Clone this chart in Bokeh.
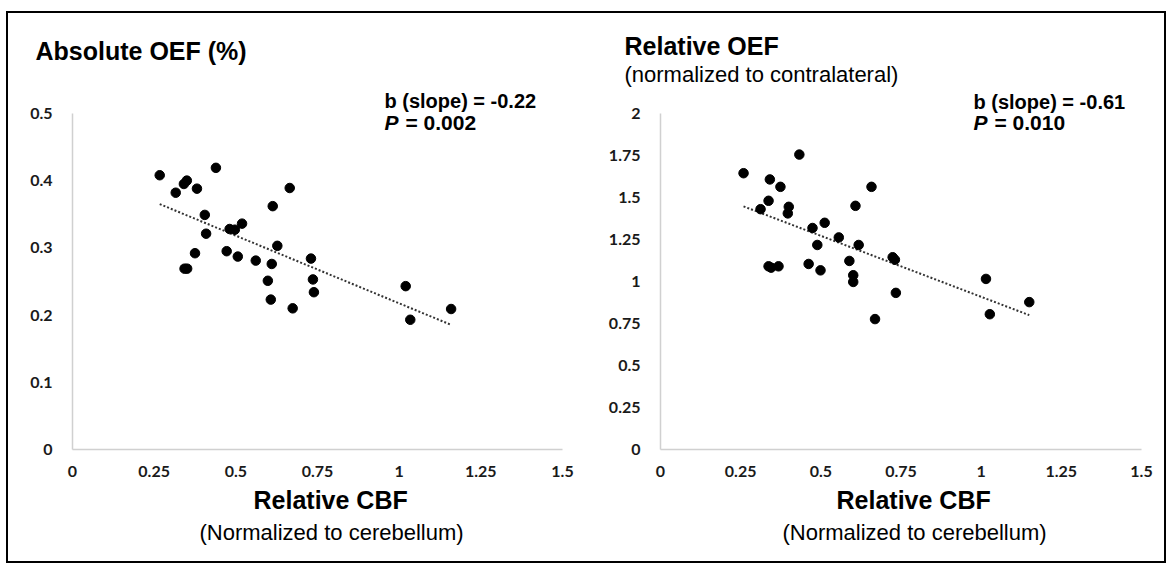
from bokeh.plotting import figure
from bokeh.layouts import row
from bokeh.models import Range1d, FixedTicker, CustomJSTickFormatter, Label, ColumnDataSource, Title
from bokeh.embed import file_html
from bokeh.resources import INLINE
import numpy as np

# ---- data ----
cbf_abs = [0.267, 0.439, 0.350, 0.341, 0.316, 0.381, 0.665, 0.613, 0.405, 0.519,
           0.481, 0.497, 0.409, 0.627, 0.375, 0.472, 0.506, 0.561, 0.610, 0.730,
           0.343, 0.351, 0.598, 0.736, 0.739, 0.607, 0.674, 1.020, 1.159, 1.034]
oef_abs = [0.408, 0.419, 0.400, 0.395, 0.382, 0.388, 0.389, 0.362, 0.349, 0.336,
           0.328, 0.327, 0.321, 0.303, 0.292, 0.295, 0.287, 0.281, 0.276, 0.284,
           0.269, 0.269, 0.251, 0.253, 0.234, 0.223, 0.210, 0.243, 0.209, 0.193]

cbf_rel = [0.433, 0.259, 0.341, 0.374, 0.337, 0.312, 0.400, 0.397, 0.474, 0.512,
           0.556, 0.489, 0.337, 0.345, 0.368, 0.462, 0.499, 0.589, 0.658, 0.608,
           0.618, 0.724, 0.731, 0.601, 0.601, 0.734, 0.669, 1.015, 1.150, 1.027]
oef_rel = [1.755, 1.644, 1.607, 1.563, 1.480, 1.430, 1.444, 1.405, 1.318, 1.349,
           1.262, 1.217, 1.090, 1.082, 1.090, 1.104, 1.066, 1.122, 1.563, 1.450,
           1.217, 1.144, 1.129, 1.037, 0.997, 0.932, 0.776, 1.015, 0.877, 0.805]

x_ticks = [0, 0.25, 0.5, 0.75, 1, 1.25, 1.5]
y_ticks_abs = [0, 0.1, 0.2, 0.3, 0.4, 0.5]
y_ticks_rel = [0, 0.25, 0.5, 0.75, 1, 1.25, 1.5, 1.75, 2]

TITLE_FONT = "Liberation Sans"
TICK_FONT = "Lato"


def panel(xs, ys, yticks, ymax, ytop, width, mbl, mbr, height, mbt, mbb, off1, off2):
    p = figure(width=width, height=height, output_backend="svg", toolbar_location=None,
               x_range=Range1d(0, 1.5), y_range=Range1d(0, ytop),
               min_border_left=mbl, min_border_right=mbr,
               min_border_top=mbt, min_border_bottom=mbb)
    p.outline_line_color = None
    p.xgrid.visible = False
    p.ygrid.visible = False
    fmt = CustomJSTickFormatter(code="return String(tick);")
    for ax, ticks in ((p.xaxis[0], x_ticks), (p.yaxis[0], yticks)):
        ax.ticker = FixedTicker(ticks=ticks)
        ax.formatter = fmt
        ax.axis_line_color = "#d0d0d0"
        ax.axis_line_width = 1.5
        ax.major_tick_line_color = None
        ax.minor_tick_line_color = None
        ax.major_label_text_font = TICK_FONT
        ax.major_label_text_font_style = "bold"
        ax.major_label_text_font_size = "16px"
        ax.major_label_text_color = "#1a1a1a"
    p.yaxis.bounds = (0, ymax)
    p.xaxis.major_label_standoff = 10
    p.yaxis.major_label_standoff = 14
    p.add_layout(Title(text="Relative CBF", align="left", offset=off1,
                       text_font=TITLE_FONT, text_font_size="25px",
                       text_font_style="bold", text_color="black", standoff=8), "below")
    p.add_layout(Title(text="(Normalized to cerebellum)", align="left", offset=off2,
                       text_font=TITLE_FONT, text_font_size="22px",
                       text_font_style="normal", text_color="black", standoff=0), "below")

    # trend line (ordinary least squares, as drawn by the spreadsheet)
    b, a = np.polyfit(xs, ys, 1)
    x0, x1 = min(xs), max(xs)
    p.line([x0, x1], [a + b * x0, a + b * x1], line_color="#333333",
           line_width=2, line_dash="2 2")
    src = ColumnDataSource(dict(x=xs, y=ys))
    p.scatter("x", "y", source=src, size=9.5, fill_color="black", line_color="black")
    return p


def lab(p, x, y, text, size, style="bold", x_offset=0, align="left"):
    p.add_layout(Label(x=x, y=y, text=text, text_font=TITLE_FONT,
                       text_font_size=size, text_font_style=style,
                       text_color="black", text_baseline="middle",
                       text_align=align, x_offset=x_offset))


def head(p, text, size, style, offset, standoff):
    p.add_layout(Title(text=text, align="left", offset=offset, text_font=TITLE_FONT,
                       text_font_size=size, text_font_style=style,
                       text_color="black", standoff=standoff), "above")


H = 548
# left panel
p1 = panel(cbf_abs, oef_abs, y_ticks_abs, 0.5, 0.54, 584, 64, 30, H, 71, 112, 181, 127)
head(p1, "Absolute OEF (%)", "25px", "bold", -37, 43)
lab(p1, 0.955, 0.518, "b (slope) = -0.22", "20px")
lab(p1, 0.955, 0.487, "P", "21px", "bold italic")
lab(p1, 0.955, 0.487, "= 0.002", "21px", "bold", x_offset=21)

# right panel
p2 = panel(cbf_rel, oef_rel, y_ticks_rel, 2, 2.16, 572, 68, 23, H, 71, 112, 176, 122)
head(p2, "(normalized to contralateral)", "22px", "normal", -36, 0)
head(p2, "Relative OEF", "25px", "bold", -36, 0)
lab(p2, 0.976, 2.07, "b (slope) = -0.61", "20px")
lab(p2, 0.976, 1.947, "P", "21px", "bold italic")
lab(p2, 0.976, 1.947, "= 0.010", "21px", "bold", x_offset=21)

layout = row(p1, p2, styles={"border": "2px solid black",
                             "margin-top": "11px", "margin-left": "6px"})
open("out.html", "w").write(file_html(layout, INLINE))
